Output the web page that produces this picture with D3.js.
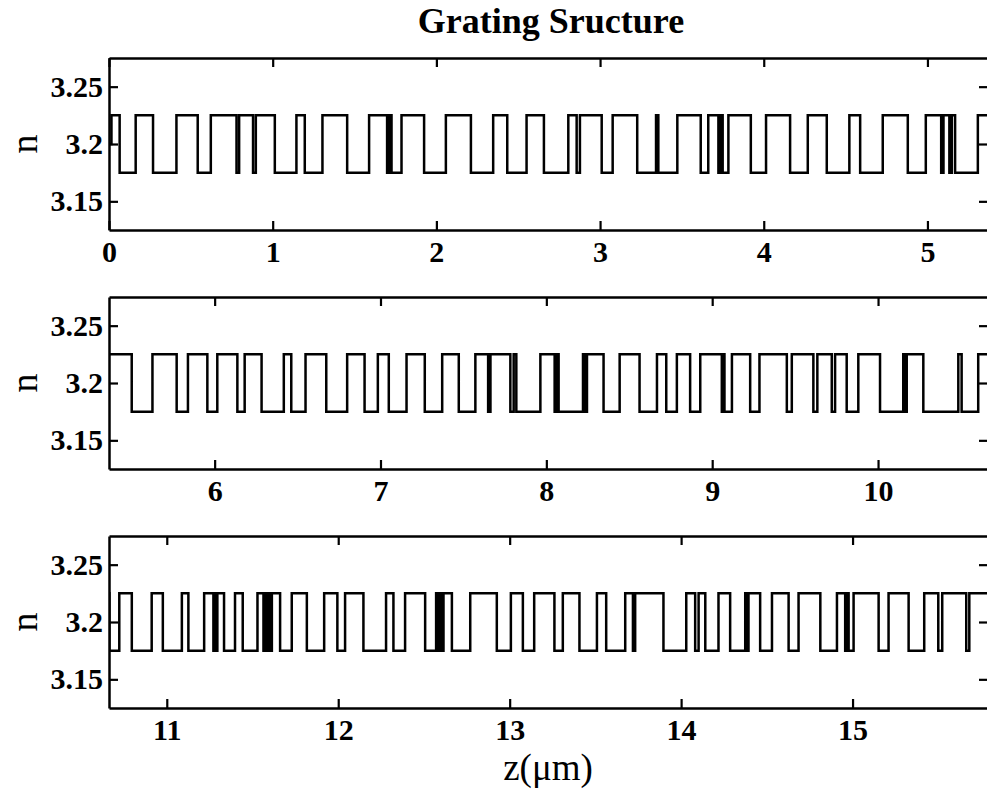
<!DOCTYPE html>
<html>
<head>
<meta charset="utf-8">
<script src="https://cdn.jsdelivr.net/npm/d3@7"></script>
<style>
  body { margin: 0; background: #fff; }
  svg text { font-family: "Liberation Serif", "Times New Roman", serif; fill: #000; }
</style>
</head>
<body>
<svg id="chart" width="987" height="789"></svg>
<script>
// Refractive index levels of the grating
const nHigh = 3.225;
const nLow = 3.175;
const nStart = 3.2;

// Positions (um) where the index toggles between nHigh and nLow
const edgesA = [0.015, 0.065, 0.163, 0.269, 0.412, 0.542, 0.622, 0.779, 0.795, 0.880, 0.897,
  1.013, 1.145, 1.196, 1.304, 1.455, 1.589, 1.699, 1.713, 1.726, 1.787, 1.925, 2.058, 2.211,
  2.347, 2.433, 2.551, 2.657, 2.806, 2.857, 2.877, 3.010, 3.077, 3.227, 3.342, 3.356, 3.472,
  3.615, 3.661, 3.723, 3.737, 3.749, 3.784, 3.921, 4.014, 4.161, 4.269, 4.385, 4.523, 4.589,
  4.727, 4.880, 4.990, 5.084, 5.098, 5.134, 5.149, 5.169, 5.308];
const edgesB = [5.500, 5.625, 5.771, 5.839, 5.956, 6.016, 6.137, 6.181, 6.283, 6.417, 6.462,
  6.548, 6.673, 6.799, 6.904, 6.984, 7.050, 7.157, 7.267, 7.372, 7.472, 7.572, 7.649, 7.663,
  7.783, 7.803, 7.819, 7.964, 8.050, 8.060, 8.074, 8.221, 8.231, 8.245, 8.345, 8.442, 8.562,
  8.667, 8.723, 8.787, 8.867, 8.928, 9.058, 9.066, 9.074, 9.119, 9.229, 9.285, 9.450, 9.480,
  9.610, 9.634, 9.721, 9.741, 9.811, 9.881, 10.012, 10.152, 10.163, 10.173, 10.273, 10.484,
  10.504, 10.604];
const edgesC = [10.665, 10.723, 10.796, 10.912, 10.977, 11.088, 11.126, 11.218, 11.272, 11.278,
  11.286, 11.295, 11.334, 11.398, 11.443, 11.529, 11.564, 11.572, 11.579, 11.589, 11.599,
  11.613, 11.661, 11.729, 11.817, 11.918, 11.995, 12.040, 12.147, 12.279, 12.322, 12.390,
  12.507, 12.571, 12.585, 12.595, 12.604, 12.614, 12.663, 12.770, 12.925, 13.007, 13.077,
  13.143, 13.261, 13.310, 13.407, 13.509, 13.563, 13.674, 13.719, 13.732, 13.897, 14.030,
  14.082, 14.102, 14.141, 14.218, 14.286, 14.374, 14.384, 14.393, 14.461, 14.530, 14.627,
  14.685, 14.812, 14.909, 14.957, 14.967, 14.977, 15.006, 15.152, 15.210, 15.327, 15.418,
  15.500, 15.523, 15.663, 15.681];
const zEnd = 15.8;

// Axis settings for the three stacked panels
const panelRanges = [[0, 5.37], [5.363, 10.663], [10.663, 15.79]];
const xTicks = [[0, 1, 2, 3, 4, 5], [6, 7, 8, 9, 10], [11, 12, 13, 14, 15]];
const yTicks = [3.15, 3.2, 3.25];
const yRange = [3.125, 3.275];

const titleText = "Grating Sructure";
const xLabelText = "z(\u03bcm)";
const yLabelText = "n";

// Build the step profile: starts at nStart, then alternates at each edge
const zEdges = edgesA.concat(edgesB, edgesC);
const profile = [{ z: 0, n: nStart }];
let level = nLow;
zEdges.forEach((z, i) => {
  level = i === 0 ? nHigh : (level === nHigh ? nLow : nHigh);
  profile.push({ z, n: level });
});
profile.push({ z: zEnd, n: level });

// Layout
const svg = d3.select("#chart");
const left = 109, right = 988;
const tops = [58, 297, 536];
const plotH = 172;
const tickFont = 30;
const strokeW = 2.5;

svg.append("text")
  .attr("x", 551).attr("y", 33)
  .attr("text-anchor", "middle")
  .attr("font-size", 36).attr("font-weight", "bold")
  .text(titleText);

panelRanges.forEach((dom, i) => {
  const top = tops[i];
  const bottom = top + plotH;
  const x = d3.scaleLinear().domain(dom).range([left, right]);
  const y = d3.scaleLinear().domain(yRange).range([bottom, top]);

  const g = svg.append("g");

  g.append("clipPath").attr("id", "clip" + i)
    .append("rect")
    .attr("x", left).attr("y", top)
    .attr("width", right - left).attr("height", plotH);

  const line = d3.line()
    .x(d => x(d.z))
    .y(d => y(d.n))
    .curve(d3.curveStepAfter);

  g.append("path")
    .datum(profile)
    .attr("clip-path", "url(#clip" + i + ")")
    .attr("fill", "none")
    .attr("stroke", "#000")
    .attr("stroke-width", strokeW)
    .attr("stroke-linejoin", "miter")
    .attr("d", line);

  const fmtX = d3.format("d");
  const fmtY = d => d3.format(".3~f")(d);

  const styleAxis = sel => {
    sel.select(".domain").attr("stroke", "#000").attr("stroke-width", strokeW);
    sel.selectAll(".tick line").attr("stroke", "#000").attr("stroke-width", 2.2);
    sel.selectAll("text")
      .attr("font-size", tickFont)
      .attr("font-weight", "bold")
      .attr("font-family", "Liberation Serif, Times New Roman, serif")
      .attr("fill", "#000");
  };

  g.append("g")
    .attr("transform", `translate(0,${bottom})`)
    .call(d3.axisBottom(x).tickValues(xTicks[i]).tickFormat(fmtX)
      .tickSizeInner(-9).tickSizeOuter(0).tickPadding(11))
    .call(styleAxis);

  g.append("g")
    .attr("transform", `translate(0,${top})`)
    .call(d3.axisTop(x).tickValues(xTicks[i]).tickFormat("")
      .tickSizeInner(-9).tickSizeOuter(0))
    .call(styleAxis);

  g.append("g")
    .attr("transform", `translate(${left},0)`)
    .call(d3.axisLeft(y).tickValues(yTicks).tickFormat(fmtY)
      .tickSizeInner(-9).tickSizeOuter(0).tickPadding(6))
    .call(styleAxis);

  g.append("g")
    .attr("transform", `translate(${right},0)`)
    .call(d3.axisRight(y).tickValues(yTicks).tickFormat("")
      .tickSizeInner(-9).tickSizeOuter(0))
    .call(styleAxis);

  svg.append("text")
    .attr("transform", `translate(37,${(top + bottom) / 2}) rotate(-90)`)
    .attr("text-anchor", "middle")
    .attr("font-size", 38)
    .text(yLabelText);
});

svg.append("text")
  .attr("x", 548).attr("y", 780)
  .attr("text-anchor", "middle")
  .attr("font-size", 37)
  .text(xLabelText);
</script>
</body>
</html>
